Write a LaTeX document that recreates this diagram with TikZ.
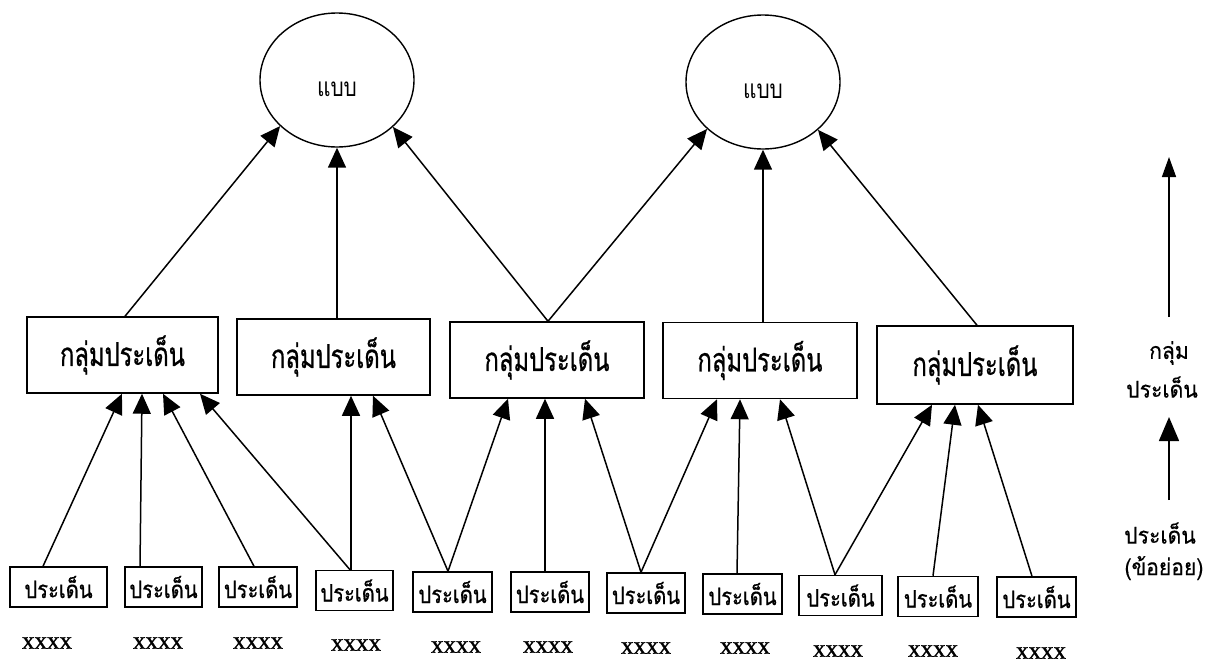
\documentclass[tikz,border=0pt]{standalone}
\usepackage{fontspec}
\setmainfont{Liberation Serif}
\newfontfamily\xfont[FakeBold=1.2]{Liberation Serif}
\newfontfamily\thaigrp[Script=Thai,FakeStretch=0.72,FakeBold=0.6]{Loma}
\newfontfamily\thaiitem[Script=Thai,FakeStretch=0.84,FakeBold=0.6]{Loma}
\newfontfamily\thaileg[Script=Thai,FakeStretch=0.92,FakeBold=0.5]{Loma}
\newfontfamily\thaioval[Script=Thai,FakeStretch=0.8]{Loma}
\usetikzlibrary{arrows.meta,shapes.geometric}
\begin{document}
\begin{tikzpicture}[x=1pt,y=-1pt,
  oval/.style={ellipse,draw,line width=1.4pt,minimum width=154pt,minimum height=134pt,inner sep=0pt,font=\thaioval\fontsize{26}{30}\selectfont},
  grp/.style={draw,line width=1.5pt,inner sep=0pt,minimum height=76pt,font=\thaigrp\fontsize{33}{36}\selectfont},
  item/.style={draw,line width=1.5pt,inner sep=0pt,minimum height=40pt,font=\thaiitem\fontsize{24}{26}\selectfont},
  lbl/.style={inner sep=0pt,font=\xfont\fontsize{25}{28}\selectfont},
  leg/.style={inner sep=0pt,font=\thaileg\fontsize{23}{26}\selectfont},
  arr/.style={line width=1.5pt,-{Triangle[length=20pt,width=18pt]}},
  legarrA/.style={line width=1.5pt,-{Triangle[length=20pt,width=14pt]}},
  legarrB/.style={line width=1.5pt,-{Triangle[length=24pt,width=20pt]}},
]
\useasboundingbox (0,0) rectangle (1210,662);
% top level
\node[oval] (e1) at (337,80) {\smash{\raisebox{-16pt}{แบบ}}};
\node[oval] (e2) at (763,82) {\smash{\raisebox{-16pt}{แบบ}}};
% groups
\node[grp,minimum width=191pt] (g1) at (122.5,355) {กลุ่มประเด็น};
\node[grp,minimum width=193pt] (g2) at (333.5,357) {กลุ่มประเด็น};
\node[grp,minimum width=194pt] (g3) at (547,360) {กลุ่มประเด็น};
\node[grp,minimum width=194pt] (g4) at (760,360.5) {กลุ่มประเด็น};
\node[grp,minimum width=196pt,minimum height=78pt] (g5) at (975,365) {กลุ่มประเด็น};
% items
\node[item,minimum width=97pt] (a) at (58.5,587) {ประเด็น};
\node[item,minimum width=77pt] (b) at (163.5,587) {ประเด็น};
\node[item,minimum width=78pt] (c) at (258,587) {ประเด็น};
\node[item,minimum width=77pt] (d) at (354.5,590.5) {ประเด็น};
\node[item,minimum width=79pt] (e) at (452.5,592) {ประเด็น};
\node[item,minimum width=78pt] (f) at (550,592) {ประเด็น};
\node[item,minimum width=78pt] (g) at (646,593) {ประเด็น};
\node[item,minimum width=79pt] (h) at (742.5,594) {ประเด็น};
\node[item,minimum width=83pt] (i) at (840.5,595.5) {ประเด็น};
\node[item,minimum width=80pt] (j) at (938,596.5) {ประเด็น};
\node[item,minimum width=79pt] (k) at (1036.5,597) {ประเด็น};
% xxxx labels
\node[lbl] (x1) at (47,643) {xxxx};
\node[lbl] (x2) at (158,643) {xxxx};
\node[lbl] (x3) at (258,643) {xxxx};
\node[lbl] (x4) at (356,645) {xxxx};
\node[lbl] (x5) at (456,647) {xxxx};
\node[lbl] (x6) at (548,647) {xxxx};
\node[lbl] (x7) at (646,648) {xxxx};
\node[lbl] (x8) at (745,648) {xxxx};
\node[lbl] (x9) at (838,651) {xxxx};
\node[lbl] (x10) at (933,651) {xxxx};
\node[lbl] (x11) at (1041,653) {xxxx};
% item -> group
\draw[arr] ([xshift=-15.5pt]a.north) -- ([xshift=-0.5pt]g1.south);
\draw[arr] ([xshift=-23.5pt]b.north) -- ([xshift=19.5pt]g1.south);
\draw[arr] ([xshift=-4pt]c.north) -- ([xshift=40.5pt]g1.south);
\draw[arr] ([xshift=-4.5pt]d.north) -- ([xshift=77.5pt]g1.south);
\draw[arr] ([xshift=-3.5pt]d.north) -- ([xshift=17.5pt]g2.south);
\draw[arr] ([xshift=-4.5pt]e.north) -- ([xshift=39.5pt]g2.south);
\draw[arr] ([xshift=-4.5pt]e.north) -- ([xshift=-39pt]g3.south);
\draw[arr] ([xshift=-5pt]f.north) -- ([xshift=-2pt]g3.south);
\draw[arr] ([xshift=-5pt]g.north) -- ([xshift=38pt]g3.south);
\draw[arr] ([xshift=-5pt]g.north) -- ([xshift=-43pt]g4.south);
\draw[arr] ([xshift=-5.5pt]h.north) -- ([xshift=-20pt]g4.south);
\draw[arr] ([xshift=-5.5pt]i.north) -- ([xshift=20pt]g4.south);
\draw[arr] ([xshift=-5.5pt]i.north) -- ([xshift=-43pt]g5.south);
\draw[arr] ([xshift=-5pt]j.north) -- ([xshift=-20pt]g5.south);
\draw[arr] ([xshift=-4.5pt]k.north) -- ([xshift=3pt]g5.south);
% group -> pattern
\draw[arr] ([xshift=2.5pt]g1.north) -- (e1.219);
\draw[arr] ([xshift=3.5pt]g2.north) -- (e1.south);
\draw[arr] ([xshift=1pt]g3.north) -- (e1.320);
\draw[arr] ([xshift=1pt]g3.north) -- (e2.220);
\draw[arr] ([xshift=3pt]g4.north) -- (e2.south);
\draw[arr] ([xshift=2pt]g5.north) -- (e2.319);
% legend
\node[leg] (l1) at (1169,353) {กลุ่ม};
\node[leg] (l2) at (1162,387) {ประเด็น};
\node[leg] (l3) at (1160,533) {ประเด็น};
\node[leg] (l4) at (1164,568) {(ข้อย่อย)};
\coordinate (s1) at (1169,317);
\coordinate (t1) at (1169,157);
\coordinate (s2) at (1169,500);
\coordinate (t2) at (1169,417);
\draw[legarrA] (s1) -- (t1);
\draw[legarrB] (s2) -- (t2);
\end{tikzpicture}
\end{document}
